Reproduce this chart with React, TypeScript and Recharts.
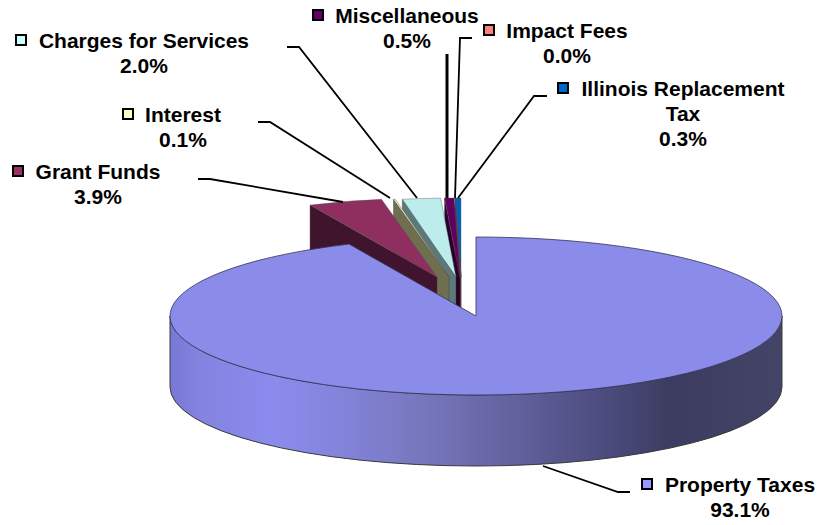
import React from "react"
import { Pie, PieChart } from "recharts"

// counter-clockwise from 12 o'clock, so that the big slice is painted last
const categories = ["Illinois Replacement Tax", "Impact Fees", "Miscellaneous", "Charges for Services", "Interest", "Grant Funds", "Property Taxes"]
const percents = [0.3, 0.0, 0.5, 2.0, 0.1, 3.9, 93.1]
const keyColors = ["#0066cc", "#ff8080", "#660066", "#ccffff", "#ffffcc", "#993366", "#9999ff"]
const topColors = ["#0060c0", "#f07878", "#600060", "#bcecec", "#eeeebe", "#8e2f5f", "#8b8bea"]
const wallColors = ["#00264f", "#6a3434", "#2a002a", "#5c7878", "#6f6f50", "#40142c", "#3f3f66"]

const explodeX = [-15, -15, -16, -20, -27, -39, 0]
const explodeY = [-39, -39, -39, -39, -39, -39, 0]

// label text lines, centre x, first baseline, key x, key y
const labelLines = [["Illinois Replacement", "Tax"], ["Impact Fees"], ["Miscellaneous"], ["Charges for Services"], ["Interest"], ["Grant Funds"], ["Property Taxes"]]
const labelCentre = [683, 567, 407, 144, 183, 98, 740]
const labelTop = [96, 38, 23, 48, 122, 179, 492]
const keyX = [557, 483, 312, 15, 122, 12, 641]
const keyY = [82, 24, 9, 34, 108, 165, 478]
const leaders = [
  "547,96 534,96 458,198",
  "472,38 460,38 455,198",
  "447,54 447,198",
  "287,47 299,47 417,198",
  "258,122 270,122 390,198",
  "198,179 210,179 343,202",
  "543,466 618,492 630,492",
]

const data = categories.map((name, i) => ({ name, value: percents[i] }))

const SQUASH = 79 / 306
const DEPTH = 71

function Slice(props: any) {
  const { cx, cy, outerRadius: rx, startAngle, endAngle, index } = props
  const ry = rx * SQUASH
  const ax = cx + explodeX[index]
  const ay = cy + explodeY[index]
  const pt = (deg: number) => {
    const a = (deg * Math.PI) / 180
    return [ax + rx * Math.cos(a), ay - ry * Math.sin(a)]
  }
  const [sx, sy] = pt(startAngle)
  const [ex, ey] = pt(endAngle)
  const large = endAngle - startAngle > 180 ? 1 : 0
  const top = `M${ax},${ay} L${sx},${sy} A${rx},${ry} 0 ${large} 0 ${ex},${ey} Z`

  if (index === categories.length - 1) {
    const rim = `M${ax - rx},${ay} A${rx},${ry} 0 0 0 ${ax + rx},${ay} L${ax + rx},${ay + DEPTH} A${rx},${ry} 0 0 1 ${ax - rx},${ay + DEPTH} Z`
    return (
      <g>
        <defs>
          <linearGradient id="rimShade" x1="0" y1="0" x2="1" y2="0">
            <stop offset="0" stopColor="#7878d4" />
            <stop offset="0.05" stopColor="#8383e0" />
            <stop offset="0.17" stopColor="#8b8bee" />
            <stop offset="0.27" stopColor="#8484dc" />
            <stop offset="0.42" stopColor="#7676bc" />
            <stop offset="0.58" stopColor="#5f5f9a" />
            <stop offset="0.72" stopColor="#4a4a7c" />
            <stop offset="0.82" stopColor="#3c3c60" />
            <stop offset="1" stopColor="#444468" />
          </linearGradient>
        </defs>
        <path d={rim} fill="url(#rimShade)" stroke="#3a3a3a" strokeWidth={1} />
        <path d={top} fill={topColors[index]} stroke="#33335a" strokeWidth={0.8} />
      </g>
    )
  }

  const wall = `M${ex},${ey} L${ax},${ay} L${ax},${ay + DEPTH} L${ex},${ey + DEPTH} Z`
  return (
    <g>
      <path d={wall} fill={wallColors[index]} stroke="#333" strokeWidth={0.4} />
      <path d={top} fill={topColors[index]} stroke="#555" strokeWidth={0.4} />
    </g>
  )
}

function SliceLabel(props: any) {
  const i = props.index
  const lines = [...labelLines[i], `${percents[i].toFixed(1)}%`]
  return (
    <g>
      <polyline points={leaders[i]} fill="none" stroke="#000" strokeWidth={i === 2 ? 3 : 1.8} />
      <rect x={keyX[i] + 1} y={keyY[i] + 1} width={10} height={10} fill={keyColors[i]} stroke="#000" strokeWidth={2} />
      {lines.map((line, n) => (
        <text
          key={line}
          x={labelCentre[i]}
          y={labelTop[i] + n * 25}
          textAnchor="middle"
          fontFamily="Liberation Sans"
          fontWeight="bold"
          fontSize={21}
          fill="#000"
        >
          {line}
        </text>
      ))}
    </g>
  )
}

export default function App() {
  return (
    <div style={{ position: "absolute", left: 0, top: 0, width: 820, height: 525, background: "#fff" }}>
      <PieChart width={820} height={525} margin={{ top: 0, right: 0, bottom: 0, left: 0 }}>
        <Pie
          data={data}
          dataKey="value"
          nameKey="name"
          cx={476}
          cy={316}
          outerRadius={306}
          startAngle={90}
          endAngle={450}
          shape={Slice}
          label={SliceLabel}
          labelLine={false}
          isAnimationActive={false}
        />
      </PieChart>
    </div>
  )
}
